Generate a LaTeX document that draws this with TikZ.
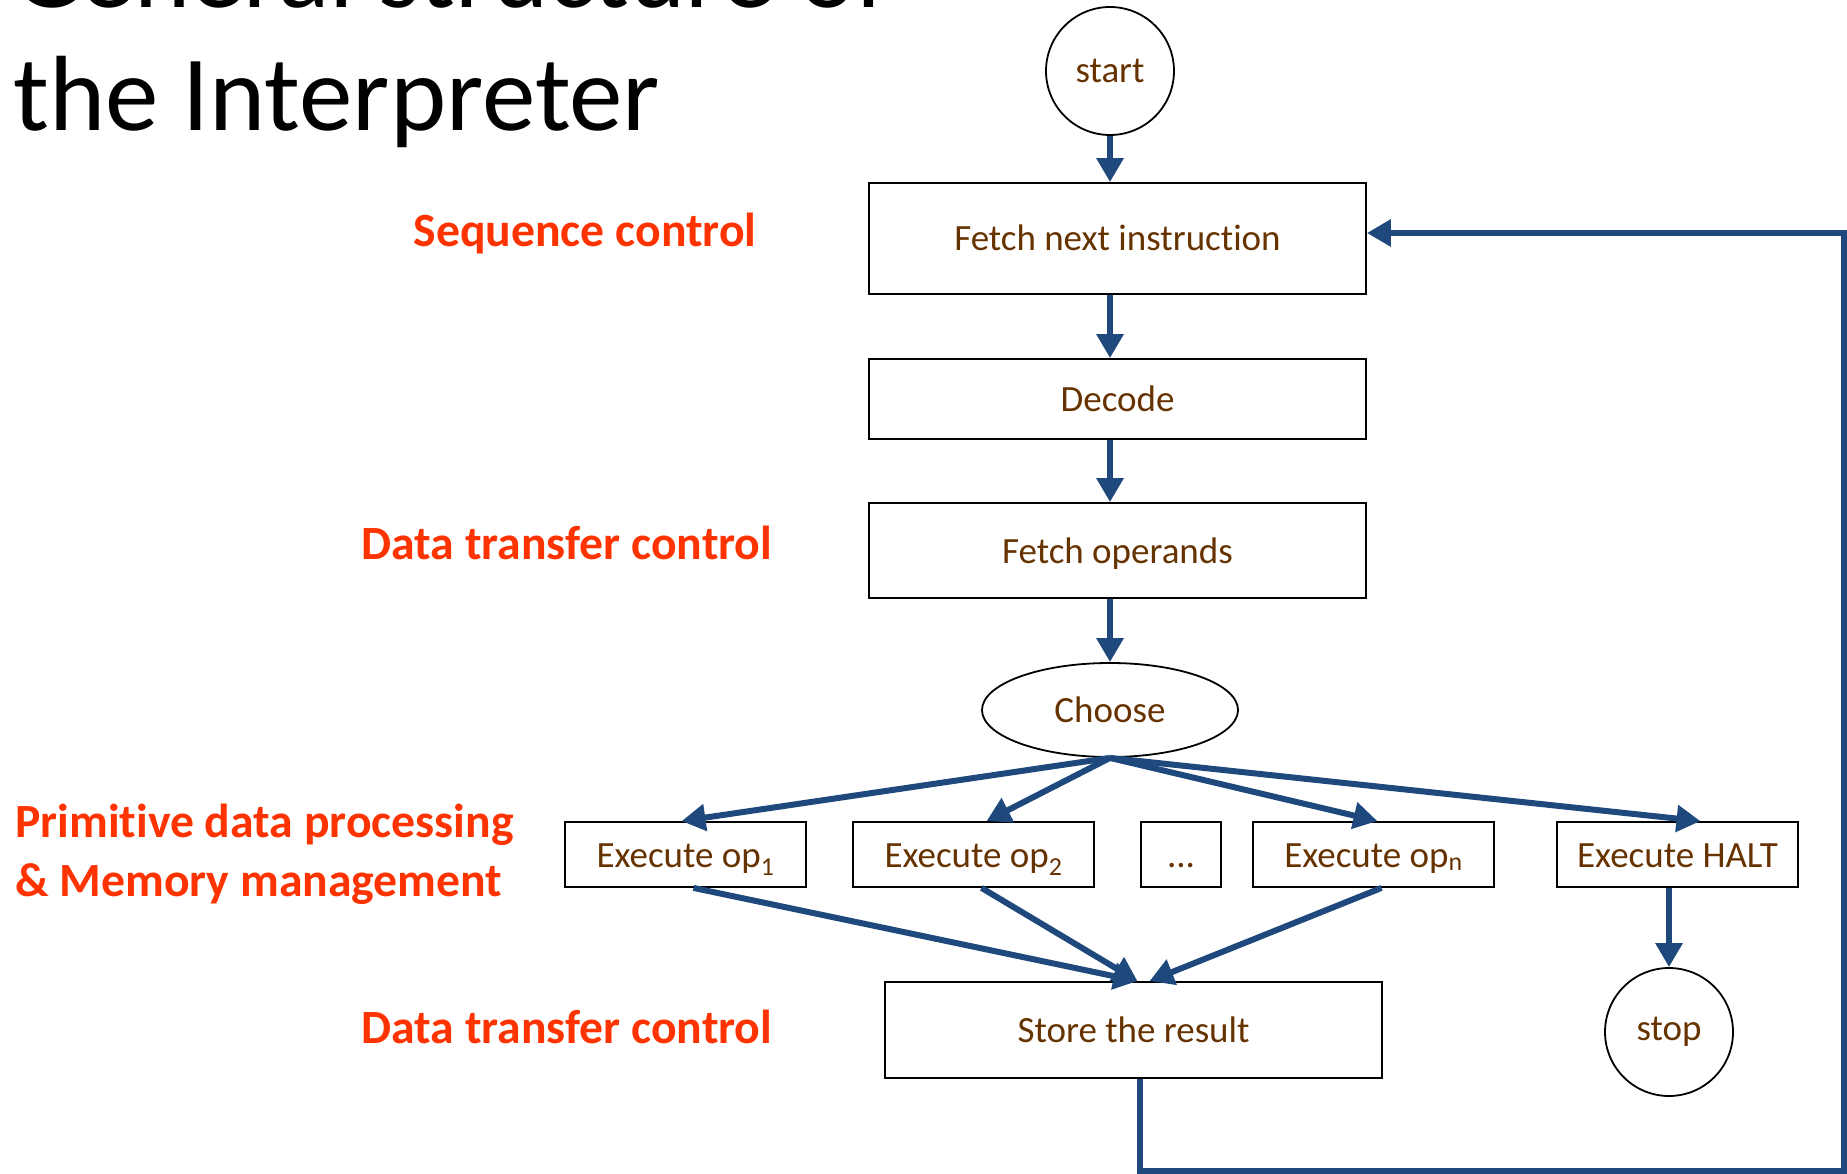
\documentclass[tikz,border=0pt]{standalone}
\usepackage{fontspec}
\setmainfont[Ligatures=NoCommon]{Carlito}
\usepackage{tikz}
\usetikzlibrary{shapes.geometric,arrows.meta}

\definecolor{flowblue}{RGB}{31,73,125}
\definecolor{txtbrown}{RGB}{102,51,0}
\definecolor{labred}{RGB}{255,51,0}

\tikzset{
  box/.style={draw, line width=1.8pt, rectangle, inner sep=0pt, text=txtbrown,
    text height=32pt, text depth=7pt, font=\fontsize{37}{40}\selectfont},
  term/.style={draw, line width=1.8pt, circle, inner sep=0pt, minimum size=128pt,
    text=txtbrown, font=\fontsize{37}{40}\selectfont},
  flow/.style={draw=flowblue, line width=6pt, -{Triangle[length=24pt,width=26pt]}},
  side label/.style={inner sep=0pt, text=labred, font=\fontsize{47.7}{50}\selectfont\bfseries},
}

\begin{document}
\begin{tikzpicture}[x=1pt,y=-1pt]
\useasboundingbox (0,0) rectangle (1847,1174);
\clip (0,0) rectangle (1847,1174);

% title
\node[anchor=base west, inner sep=0pt, font=\fontsize{107}{123}\selectfont] (title1) at (13,8) {General structure of};
\node[anchor=base west, inner sep=0pt, font=\fontsize{107}{123}\selectfont] (title2) at (13,131) {the Interpreter};

% side labels
\node[side label] (lseq) at (585,234) {Sequence control};
\node[side label] (ldt1) at (567,543) {Data transfer control};
\node[side label, anchor=west] (lprim) at (15,825) {Primitive data processing};
\node[side label, anchor=west] (lmem) at (15,884) {\& Memory management};
\node[side label] (ldt2) at (567,1027) {Data transfer control};

% flow chart
\node[term] (start) at (1110,71) {start};
\node[box, minimum width=497pt, minimum height=111pt] (fetch) at (1117.5,238.5) {Fetch next instruction};
\node[box, minimum width=497pt, minimum height=80pt] (decode) at (1117.5,399) {Decode};
\node[box, minimum width=497pt, minimum height=95pt] (operands) at (1117.5,550.5) {Fetch operands};
\node[box, ellipse, minimum width=256pt, minimum height=94pt] (choose) at (1110,710) {Choose};
\node[box, minimum width=241pt, minimum height=65pt] (op1) at (685.5,854.5) {Execute op\textsubscript{1}};
\node[box, minimum width=241pt, minimum height=65pt] (op2) at (973.5,854.5) {Execute op\textsubscript{2}};
\node[box, minimum width=80pt, minimum height=65pt] (dots) at (1181,854.5) {...};
\node[box, minimum width=241pt, minimum height=65pt] (opn) at (1373.5,854.5) {Execute op\textsubscript{n}};
\node[box, minimum width=241pt, minimum height=65pt] (halt) at (1677.5,854.5) {Execute HALT};
\node[box, minimum width=497pt, minimum height=96pt] (store) at (1133.5,1030) {Store the result};
\node[term] (stop) at (1669,1032) {stop};

\coordinate (c1) at (1140,1171);
\coordinate (c2) at (1844,1171);
\coordinate (c3) at (1844,233);

\draw[flow] (start.south) to (fetch.north -| start);
\draw[flow] (fetch.south -| start) to (decode.north -| start);
\draw[flow] (decode.south -| start) to (operands.north -| start);
\draw[flow] (operands.south -| start) to (choose.north);
\draw[flow] (choose.south) to ([xshift=-4pt]op1.north);
\draw[flow] (choose.south) to ([xshift=13pt]op2.north);
\draw[flow] (choose.south) to ([xshift=4pt]opn.north);
\draw[flow] (choose.south) to ([xshift=23pt]halt.north);
\draw[flow] ([xshift=8pt]op1.south) to ([xshift=4pt]store.north);
\draw[flow] ([xshift=8pt]op2.south) to ([xshift=4pt]store.north);
\draw[flow] ([xshift=8pt]opn.south) to ([xshift=16pt]store.north);
\draw[flow] (halt.south -| stop) to (stop.north);
\draw[flow] ([xshift=6.5pt]store.south) -- (c1) -- (c2) -- (c3) -- (fetch.east |- c3);
\end{tikzpicture}
\end{document}
